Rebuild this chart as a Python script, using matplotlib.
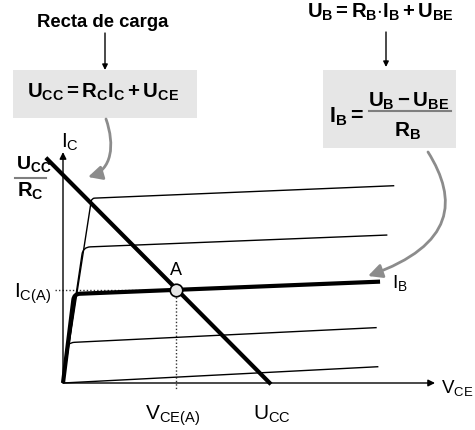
import numpy as np
import matplotlib
matplotlib.use('Agg')
import matplotlib.pyplot as plt
import matplotlib.transforms as mtransforms
from matplotlib.path import Path
from matplotlib.patches import Rectangle, FancyArrowPatch, PathPatch, ArrowStyle
from matplotlib import font_manager as fm

names = {f.name for f in fm.fontManager.ttflist}
NARROW = 'Liberation Sans Narrow' if 'Liberation Sans Narrow' in names else 'Liberation Sans'
plt.rcParams['font.family'] = ['Liberation Sans', 'DejaVu Sans']
plt.rcParams['mathtext.fontset'] = 'custom'
plt.rcParams['mathtext.rm'] = NARROW
plt.rcParams['mathtext.it'] = NARROW + ':italic'
plt.rcParams['mathtext.bf'] = 'Liberation Sans:bold'
plt.rcParams['mathtext.default'] = 'rm'

# ---------------- data (V, mA in arbitrary units) ----------------
U_CC = 10.0            # supply voltage (x intercept of load line)
IC_SAT = 10.0          # U_CC / R_C (y intercept of load line)
load_x = [-0.82, 9.95]
load_y = [10.78, -0.06]
# output characteristics: knee corner points and end points
knee_x = [1.37, 0.96, 0.53, 0.20]
knee_y = [8.84, 6.50, 4.26, 1.93]
round_d = [0.15, 0.35, 0.28, 0.35]
end_x = [15.85, 15.52, 15.17, 15.01, 15.09]
end_y = [9.44, 7.08, 4.85, 2.65, 0.78]
IB_INDEX = 2
VCE_A, IC_A = 5.39, 4.47
X_AXIS_END, Y_AXIS_END = 17.8, 11.05

W, H = 475, 430
X0PX, Y0PX, SCALE = 63.0, 383.0, 20.9

fig = plt.figure(figsize=(W / 100, H / 100), dpi=100)
ax = fig.add_axes([0, 0, 1, 1])
ax.set_xlim(-X0PX / SCALE, (W - X0PX) / SCALE)
ax.set_ylim(-(H - Y0PX) / SCALE, Y0PX / SCALE)
ax.axis('off')

px = mtransforms.Affine2D().scale(1 / W, -1 / H).translate(0, 1) + fig.transFigure

# ---------------- axes arrows ----------------
ax.annotate('', xy=(X_AXIS_END, 0), xytext=(0, 0),
            arrowprops=dict(arrowstyle='-|>', lw=1.0, color='black', mutation_scale=10,
                            shrinkA=0, shrinkB=0))
ax.annotate('', xy=(0, Y_AXIS_END), xytext=(0, 0),
            arrowprops=dict(arrowstyle='-|>', lw=1.0, color='black', mutation_scale=10,
                            shrinkA=0, shrinkB=0))

# ---------------- characteristic curves ----------------
for i in range(len(end_x)):
    e = np.array([end_x[i], end_y[i]])
    if i < len(knee_x):
        k = np.array([knee_x[i], knee_y[i]])
        d = round_d[i]
        R = k - d * k / np.linalg.norm(k)
        F = k + d * (e - k) / np.linalg.norm(e - k)
        verts = [(0, 0), tuple(R), tuple(k), tuple(F), tuple(e)]
        codes = [Path.MOVETO, Path.LINETO, Path.CURVE3, Path.CURVE3, Path.LINETO]
    else:
        verts = [(0, 0), tuple(e)]
        codes = [Path.MOVETO, Path.LINETO]
    lw = 3.0 if i == IB_INDEX else 1.0
    ax.add_patch(PathPatch(Path(verts, codes), fill=False, lw=lw, edgecolor='black',
                           capstyle='butt', joinstyle='round', zorder=3))

# load line
ax.plot(load_x, load_y, color='black', lw=3.0, solid_capstyle='butt', zorder=4)

# dotted guides
ax.plot([-0.38, VCE_A], [IC_A, IC_A], color='#333333', lw=1.0, ls=(0, (1, 1.5)), zorder=2)
ax.plot([VCE_A, VCE_A], [IC_A, -0.29], color='#333333', lw=1.0, ls=(0, (1, 1.5)), zorder=2)

# operating point
ax.plot([VCE_A], [IC_A], 'o', ms=9, mfc='#e6e6e6', mec='black', mew=1.2, zorder=6)

# ---------------- labels ----------------
def t(x, y, s, size, ha='left', va='baseline', **kw):
    ax.text(x, y, s, transform=px, fontsize=size, ha=ha, va=va, **kw)

t(61, 148, r'$\mathrm{I_C}$', 15)
t(176, 275, r'$\mathrm{A}$', 13, ha='center')
t(51, 298, r'$\mathrm{I_{C(A)}}$', 15, ha='right')
t(441, 393, r'$\mathrm{V_{CE}}$', 13.5)
t(172, 420, r'$\mathrm{V_{CE(A)}}$', 15, ha='center')
t(272, 420, r'$\mathrm{U_{CC}}$', 15, ha='center')
t(392, 288, r'$\mathrm{I_B}$', 14)

# Ucc / Rc
t(16, 169, r'$\mathbf{U_{CC}}$', 14)
ax.plot([15, 46], [178, 178], transform=px, color='#7f7f7f', lw=1.5)
t(17, 197, r'$\mathbf{R_{C}}$', 14.5)

# top left
t(103, 27, 'Recta de carga', 13.3, ha='center', fontweight='bold')
ax.annotate('', xy=(105, 70), xytext=(105, 33), xycoords=px, textcoords=px,
            arrowprops=dict(arrowstyle='-|>', lw=1.0, color='black', mutation_scale=8,
                            shrinkA=0, shrinkB=0))
ax.add_patch(Rectangle((13, 70), 184, 48, transform=px, facecolor='#e6e6e6',
                       edgecolor='none', zorder=1))
t(103, 98, r'$\mathbf{U_{CC} = R_{C}I_{C} + U_{CE}}$', 14.7, ha='center')

# top right
t(380, 18, r'$\mathbf{U_{B} = R_{B}{\cdot}I_{B} + U_{BE}}$', 14.6, ha='center')
ax.annotate('', xy=(386, 67), xytext=(386, 32), xycoords=px, textcoords=px,
            arrowprops=dict(arrowstyle='-|>', lw=1.0, color='black', mutation_scale=8,
                            shrinkA=0, shrinkB=0))
ax.add_patch(Rectangle((323, 70), 133, 78, transform=px, facecolor='#e6e6e6',
                       edgecolor='none', zorder=1))
t(329, 122, r'$\mathbf{I_{B} =}$', 15.5)
t(409, 107, r'$\mathbf{U_{B} - U_{BE}}$', 14.8, ha='center')
ax.plot([369, 451], [111, 111], transform=px, color='#7f7f7f', lw=1.5)
t(408, 137, r'$\mathbf{R_{B}}$', 15, ha='center')

# gray curved arrows
style = ArrowStyle('-|>', head_length=0.7, head_width=0.35)
p1 = Path([(106, 119), (115, 145), (112, 170), (88, 177)],
          [Path.MOVETO, Path.CURVE4, Path.CURVE4, Path.CURVE4])
ax.add_patch(FancyArrowPatch(path=p1, arrowstyle=style, mutation_scale=12, transform=px,
                             color='#8c8c8c', lw=2.0))
p2 = Path([(428, 152), (458, 200), (455, 245), (368, 276)],
          [Path.MOVETO, Path.CURVE4, Path.CURVE4, Path.CURVE4])
ax.add_patch(FancyArrowPatch(path=p2, arrowstyle=style, mutation_scale=12, transform=px,
                             color='#8c8c8c', lw=2.0))

fig.savefig('out.png', dpi=100)
